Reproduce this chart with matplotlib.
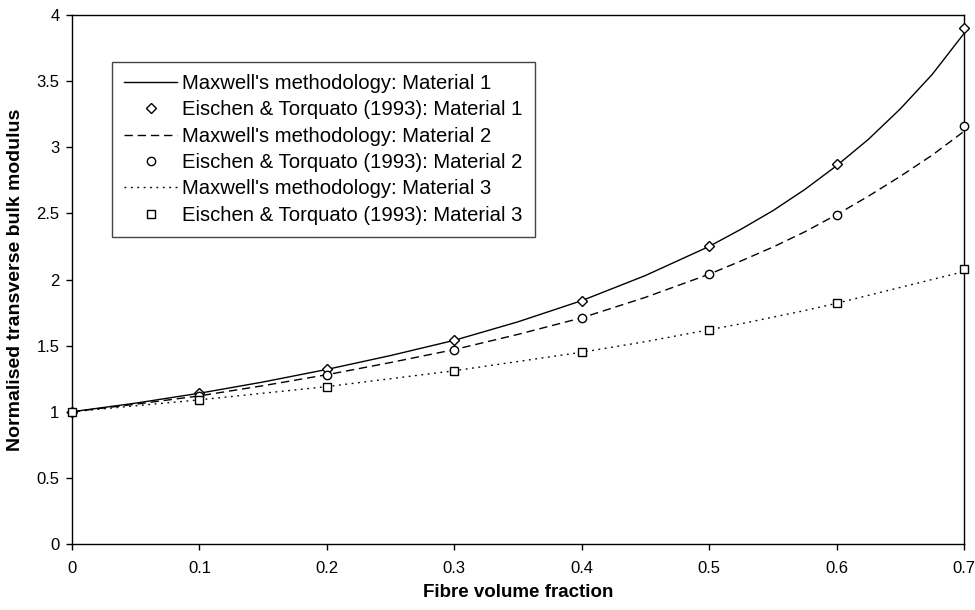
import numpy as np
import matplotlib
matplotlib.use('Agg')
import matplotlib.pyplot as plt
from matplotlib.ticker import FuncFormatter

plt.rcParams['font.family'] = ['Liberation Sans', 'DejaVu Sans']

# Eischen & Torquato (1993) data points
vf_pts = [0.0, 0.1, 0.2, 0.3, 0.4, 0.5, 0.6, 0.7]
et_mat1 = [1.00, 1.14, 1.32, 1.54, 1.84, 2.25, 2.87, 3.90]
et_mat2 = [1.00, 1.12, 1.28, 1.47, 1.71, 2.04, 2.49, 3.16]
et_mat3 = [1.00, 1.09, 1.19, 1.31, 1.45, 1.62, 1.82, 2.08]

# Maxwell's methodology curves
vf_line = [0.0, 0.05, 0.1, 0.15, 0.2, 0.25, 0.3, 0.35, 0.4, 0.45, 0.5, 0.525, 0.55, 0.575,
           0.6, 0.625, 0.65, 0.675, 0.7]
mx_mat1 = [1.00, 1.065, 1.14, 1.225, 1.32, 1.425, 1.54, 1.68, 1.84, 2.03, 2.25, 2.38, 2.52, 2.68,
           2.86, 3.06, 3.29, 3.55, 3.86]
mx_mat2 = [1.00, 1.057, 1.12, 1.197, 1.28, 1.372, 1.47, 1.585, 1.71, 1.865, 2.04, 2.14, 2.245, 2.36,
           2.49, 2.63, 2.78, 2.94, 3.12]
mx_mat3 = [1.00, 1.045, 1.09, 1.14, 1.19, 1.25, 1.31, 1.38, 1.45, 1.53, 1.62, 1.665, 1.715, 1.765,
           1.82, 1.88, 1.94, 2.00, 2.06]

fig = plt.figure(figsize=(9.75, 6.1), dpi=100)
ax = fig.add_axes([0.0738, 0.1082, 0.9149, 0.8672])

mk = dict(linestyle='none', markerfacecolor='white', markeredgecolor='black',
          markeredgewidth=1.0, clip_on=False, zorder=4)

ax.plot(vf_line, mx_mat1, color='black', linewidth=1.0, linestyle='-',
        label="Maxwell's methodology: Material 1", clip_on=False)
ax.plot(vf_pts, et_mat1, marker='D', markersize=4.8, **mk,
        label='Eischen & Torquato (1993): Material 1')
ax.plot(vf_line, mx_mat2, color='black', linewidth=1.0, linestyle=(0, (6, 3.5)),
        label="Maxwell's methodology: Material 2", clip_on=False)
ax.plot(vf_pts, et_mat2, marker='o', markersize=6, **mk,
        label='Eischen & Torquato (1993): Material 2')
ax.plot(vf_line, mx_mat3, color='black', linewidth=1.0, linestyle=(0, (1.3, 3.3)),
        label="Maxwell's methodology: Material 3", clip_on=False)
ax.plot(vf_pts, et_mat3, marker='s', markersize=6, **mk,
        label='Eischen & Torquato (1993): Material 3')

ax.set_xlim(0, 0.7)
ax.set_ylim(0, 4)
ax.set_xticks(np.arange(0, 0.71, 0.1))
ax.set_yticks(np.arange(0, 4.01, 0.5))
ax.xaxis.set_major_formatter(FuncFormatter(lambda v, p: '%g' % round(v, 2)))
ax.yaxis.set_major_formatter(FuncFormatter(lambda v, p: '%g' % round(v, 2)))
ax.tick_params(axis='both', direction='out', length=4, width=1, labelsize=12, pad=5)
ax.tick_params(axis='x', pad=8)
for s in ax.spines.values():
    s.set_linewidth(1.0)

ax.set_xlabel('Fibre volume fraction', fontsize=13.5, fontweight='bold', labelpad=6)
ax.set_ylabel('Normalised transverse bulk modulus', fontsize=14, fontweight='bold', labelpad=9)

leg = ax.legend(loc='upper left', bbox_to_anchor=(112 / 975, 1 - 62 / 610),
                bbox_transform=fig.transFigure, fontsize=14.6, frameon=True,
                fancybox=False, edgecolor='#444444', framealpha=1,
                handlelength=2.6, handletextpad=0.25, labelspacing=0.36,
                borderpad=0.6, borderaxespad=0)
leg.get_frame().set_linewidth(1.0)

fig.savefig('out.png', dpi=100)
